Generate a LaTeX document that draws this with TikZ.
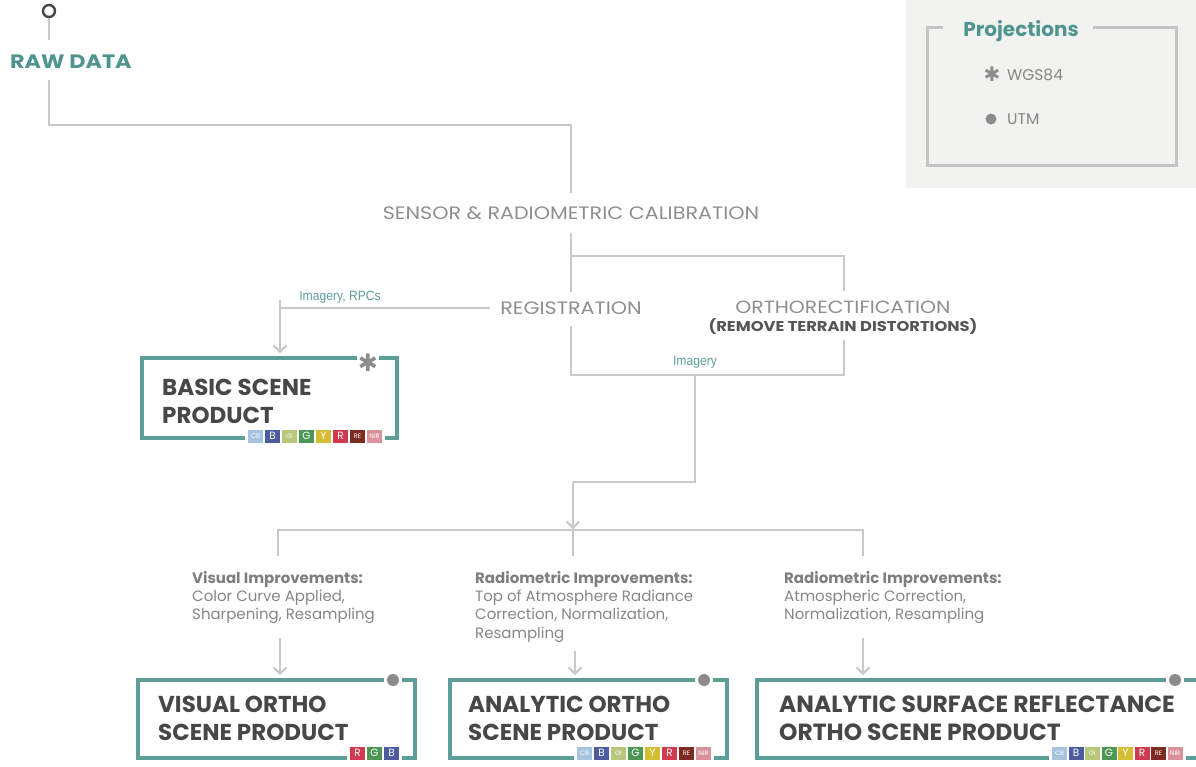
\documentclass[tikz,border=0pt]{standalone}
\usepackage{fontspec}
\setmainfont{Poppins}
\newfontfamily\widefont[FakeStretch=1.15]{Poppins}
\newfontfamily\condfont[FakeStretch=0.9]{Liberation Sans}
\newfontfamily\symfont{DejaVu Sans}
\usetikzlibrary{arrows.meta,calc}
\definecolor{tealc}{HTML}{5E9E99}
\definecolor{tealtext}{HTML}{4F958F}
\definecolor{connc}{HTML}{C9C9C9}
\definecolor{midgray}{HTML}{8E8E8E}
\definecolor{impgray}{HTML}{868686}
\definecolor{impbold}{HTML}{7E7E7E}
\definecolor{darktext}{HTML}{474747}
\definecolor{subdark}{HTML}{555555}
\definecolor{legbg}{HTML}{F2F2F0}
\definecolor{legline}{HTML}{C4C4C4}
\definecolor{symgray}{HTML}{8C8C8C}
\definecolor{cCB}{HTML}{A6C4DF}
\definecolor{cB}{HTML}{4F5BA0}
\definecolor{cGI}{HTML}{B8C87A}
\definecolor{cG}{HTML}{4E9653}
\definecolor{cY}{HTML}{D4BD35}
\definecolor{cR}{HTML}{CF3A4F}
\definecolor{cRE}{HTML}{7B2B20}
\definecolor{cNIR}{HTML}{D9929B}
\tikzset{
  conn/.style={draw=connc, line width=2.6pt},
  arr/.style={conn, -{Straight Barb[length=6pt,width=13pt,line width=2.2pt]}},
  pbox/.style={draw=tealc, line width=4pt, line join=miter, line cap=butt},
  chip/.style={minimum width=15pt, minimum height=13pt, inner sep=0pt, text=white},
  stagetxt/.style={text=midgray, anchor=base, inner sep=0pt},
  ptitle/.style={text=darktext, font=\bfseries\fontsize{23}{28}\selectfont, align=left, anchor=west, inner sep=0pt},
  imptxt/.style={text=impgray, font=\fontsize{15}{18.3}\selectfont, align=left, anchor=north west, inner sep=0pt},
  lbl/.style={text=tealc, font=\condfont\fontsize{13.5}{15}\selectfont, inner sep=0pt},
  pdot/.style={circle, fill=symgray, minimum size=12pt, inner sep=0pt},
}
\newcommand{\eightchips}[4]{%
  \foreach \lab/\col/\fs [count=\i from 0] in {CB/cCB/6.5, B/cB/10.5, GI/cGI/6.5, G/cG/10.5, Y/cY/10.5, R/cR/10.5, RE/cRE/6.5, NIR/cNIR/6.5} {
    \node[chip, fill=\col, font=\fontsize{\fs}{\fs}\selectfont] (#1\i) at ({#2+\i*#4}, #3) {\lab};
  }}
\begin{document}
\begin{tikzpicture}[x=1pt,y=-1pt]
\useasboundingbox (0,0) rectangle (1196,766);

% ---------- legend ----------
\fill[legbg] (906,0) rectangle (1196,188);
\node[text=tealtext, font=\bfseries\fontsize{20}{24}\selectfont, anchor=base, inner sep=0pt] (projtitle) at (1021,36) {Projections};
\draw[legline, line width=3pt] (943,27) -- (927,27) -- (927,165) -- (1176,165) -- (1176,27) -- (1093,27);
\node[text=symgray, font=\symfont\fontsize{20}{20}\selectfont, inner sep=0pt] (wgsstar) at (992,74) {✱};
\node[text=impgray, font=\fontsize{15.5}{16}\selectfont, anchor=base west, inner sep=0pt] (wgs) at (1007,80) {WGS84};
\node[circle, fill=symgray, minimum size=11pt, inner sep=0pt] (utmdot) at (991,119) {};
\node[text=impgray, font=\fontsize{15.5}{16}\selectfont, anchor=base west, inner sep=0pt] (utm) at (1007,124) {UTM};

% ---------- raw data ----------
\node[circle, draw=darktext, line width=2.4pt, minimum size=12pt, inner sep=0pt] (rawdot) at (49,11) {};
\node[text=tealtext, font=\widefont\bfseries\fontsize{19.4}{24}\selectfont, anchor=base west, inner sep=0pt] (raw) at (10,68) {RAW DATA};

% ---------- stages ----------
\node[stagetxt, font=\widefont\fontsize{18}{20}\selectfont] (sensor) at (571,219) {SENSOR \& RADIOMETRIC CALIBRATION};
\node[stagetxt, font=\widefont\fontsize{18}{20}\selectfont] (reg) at (571,314) {REGISTRATION};
\node[stagetxt, font=\widefont\fontsize{17.7}{20}\selectfont] (ortho) at (843,313) {ORTHORECTIFICATION};
\node[stagetxt, text=subdark, font=\widefont\bfseries\fontsize{14.2}{16}\selectfont] (orthosub) at (843,331) {(REMOVE TERRAIN DISTORTIONS)};
\node[lbl, anchor=base] (lblrpc) at (340,300) {Imagery, RPCs};
\node[lbl, anchor=base] (lblimg) at (695,365) {Imagery};

% connector points
\coordinate (rawA) at (49,40);
\coordinate (rawB) at (49,80);
\coordinate (j1) at (571,125);
\coordinate (sensTop) at (571,193);
\coordinate (sensBot) at (571,233);
\coordinate (regTop) at (571,292);
\coordinate (br1) at (571,256);
\coordinate (br2) at (844,256);
\coordinate (orthoTop) at (844,291);
\coordinate (regBot) at (571,326);
\coordinate (orthoBot) at (844,340);
\coordinate (m1) at (571,375);
\coordinate (m2) at (844,375);
\coordinate (imgA) at (695,375);
\coordinate (imgB) at (695,482);
\coordinate (imgC) at (573,482);
\coordinate (regL) at (490,308);
\coordinate (regL2) at (280,308);
\coordinate (split) at (573,530);
\coordinate (sL) at (278,530);
\coordinate (sR) at (863,530);

\draw[conn] (rawdot.south) -- (rawA);
\draw[conn] (rawB) -- (rawB |- j1) -- (j1) -- (sensTop);
\draw[conn] (sensBot) -- (regTop);
\draw[conn] (br1) -- (br2) -- (orthoTop);
\draw[conn] (orthoBot) -- (m2) -- (m1) -- (regBot);
\draw[conn] (regL) -- (regL2) -- (280,300);

% ---------- basic scene product ----------
\node[ptitle] (basic) at (162,401) {BASIC SCENE\\PRODUCT};
\node[text=symgray, font=\symfont\fontsize{24}{24}\selectfont, inner sep=0pt] (basicstar) at (368,363) {✱};
\draw[arr] (regL2) -- (280,353);
\draw[pbox] (357,358) -- (142,358) -- (142,438) -- (245,438);
\draw[pbox] (379,358) -- (397,358) -- (397,438) -- (385,438);
\eightchips{bc}{255.5}{436}{17}

% ---------- to the three ortho products ----------
\draw[conn] (imgA) -- (imgB) -- (imgC);
\draw[arr] (imgC) -- (573,529);
\draw[conn] (278,556) -- (sL) -- (sR) -- (863,556);
\draw[conn] (split) -- (573,556);

\node[imptxt] (impvis) at (192,571) {\textcolor{impbold}{\textbf{Visual Improvements:}}\\Color Curve Applied,\\Sharpening, Resampling};
\node[imptxt] (imprad1) at (475,571) {\textcolor{impbold}{\textbf{Radiometric Improvements:}}\\Top of Atmosphere Radiance\\Correction, Normalization,\\Resampling};
\node[imptxt] (imprad2) at (784,571) {\textcolor{impbold}{\textbf{Radiometric Improvements:}}\\Atmospheric Correction,\\Normalization, Resampling};

\draw[arr] (280,638) -- (280,675);
\draw[arr] (575,651) -- (575,675);
\draw[arr] (863,638) -- (863,675);

% ---------- visual ortho ----------
\node[ptitle] (visual) at (158,718) {VISUAL ORTHO\\SCENE PRODUCT};
\node[pdot] (visdot) at (393,680) {};
\draw[pbox] (384,680) -- (138,680) -- (138,758) -- (347,758);
\draw[pbox] (402,680) -- (415,680) -- (415,758) -- (402,758);
\foreach \lab/\col [count=\i from 0] in {R/cR, G/cG, B/cB} {
  \node[chip, fill=\col, font=\fontsize{10.5}{10.5}\selectfont] (vc\i) at ({357.5+\i*17}, 753) {\lab};
}

% ---------- analytic ortho ----------
\node[ptitle] (analytic) at (468,718) {ANALYTIC ORTHO\\SCENE PRODUCT};
\node[pdot] (anadot) at (704,680) {};
\draw[pbox] (695,680) -- (450,680) -- (450,758) -- (574,758);
\draw[pbox] (713,680) -- (727,680) -- (727,758) -- (714,758);
\eightchips{ac}{584.5}{753}{17}

% ---------- analytic surface reflectance ----------
\node[ptitle, font=\bfseries\fontsize{23.4}{28}\selectfont] (asr) at (779,718) {ANALYTIC SURFACE REFLECTANCE\\ORTHO SCENE PRODUCT};
\node[pdot] (asrdot) at (1175,680) {};
\draw[pbox] (1166,680) -- (757,680) -- (757,758) -- (1049,758);
\draw[pbox] (1184,680) -- (1200,680);
\draw[pbox] (1186,758) -- (1200,758);
\eightchips{sc}{1059.5}{753}{16.5}
\end{tikzpicture}
\end{document}
